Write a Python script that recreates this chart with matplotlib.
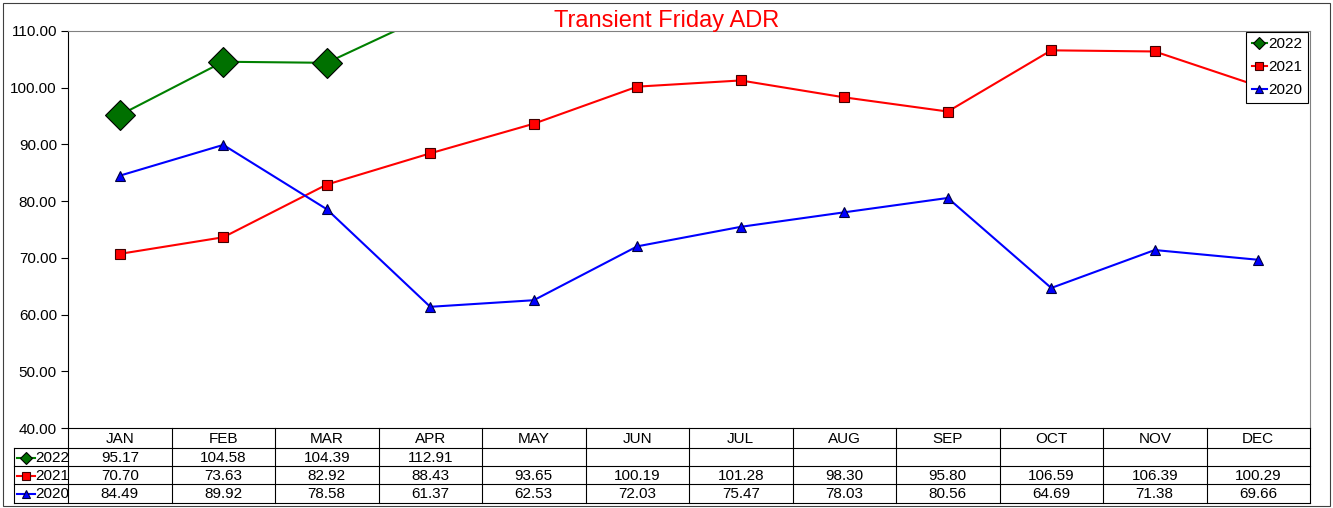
import numpy as np
import matplotlib.pyplot as plt
from matplotlib.lines import Line2D

plt.rcParams['font.family'] = ['Liberation Sans', 'DejaVu Sans']

months = ["JAN", "FEB", "MAR", "APR", "MAY", "JUN",
          "JUL", "AUG", "SEP", "OCT", "NOV", "DEC"]
adr_2022 = [95.17, 104.58, 104.39, 112.91]
adr_2021 = [70.70, 73.63, 82.92, 88.43, 93.65, 100.19,
            101.28, 98.30, 95.80, 106.59, 106.39, 100.29]
adr_2020 = [84.49, 89.92, 78.58, 61.37, 62.53, 72.03,
            75.47, 78.03, 80.56, 64.69, 71.38, 69.66]
years = ["2022", "2021", "2020"]

W, H = 1333, 508
fs = 11
fig = plt.figure(figsize=(W / 100, H / 100), dpi=100)

# outer chart border
fig.add_artist(plt.Rectangle((3 / W, 2 / H), 1 - 6 / W, 1 - 5 / H, transform=fig.transFigure,
                             fill=False, ec='#404040', lw=0.8))

x0, x1 = 68, 1310
y_top, y_bot = 31, 428
ax = fig.add_axes([x0 / W, 1 - y_bot / H, (x1 - x0) / W, (y_bot - y_top) / H])

styles = [
    dict(color='green', marker='D', ms=15, mfc='#007000', mec='black', mew=0.8),
    dict(color='red', marker='s', ms=7, mfc='red', mec='#400000', mew=0.8),
    dict(color='blue', marker='^', ms=7, mfc='blue', mec='#000040', mew=0.8),
]
series = [adr_2022, adr_2021, adr_2020]
idx = np.arange(len(months))
for name, vals, st in zip(years, series, styles):
    ax.plot(idx[:len(vals)], vals, lw=1.5, label=name, **st)

ax.set_xlim(-0.5, 11.5)
ax.set_ylim(40, 110)
ax.set_yticks(np.arange(40, 111, 10))
ax.set_yticklabels([f"{v:.2f}" for v in np.arange(40, 111, 10)], fontsize=fs)
ax.set_xticks([])
ax.tick_params(axis='y', direction='out', length=5, width=0.8, pad=3)
for s in ['top', 'right']:
    ax.spines[s].set_color('#808080')
for s in ['left', 'bottom']:
    ax.spines[s].set_color('black')
fig.text(0.5, 1 - 27 / H, "Transient Friday ADR", color='red', fontsize=17,
         ha='center', va='baseline')

leg_handles = [Line2D([], [], color=st['color'], marker=st['marker'], ms=6,
                      mfc=st['mfc'], mec=st['mec'], mew=0.8, lw=1.5) for st in styles]
leg = ax.legend(leg_handles, years, loc='upper right', bbox_to_anchor=(0.999, 1.0),
                fontsize=fs, frameon=True, fancybox=False, framealpha=1,
                handlelength=1.0, handletextpad=0.1, borderpad=0.35,
                labelspacing=0.6, borderaxespad=0.05)
leg.get_frame().set_edgecolor('black')
leg.get_frame().set_linewidth(0.8)

# data table below the plot area
tx0 = 14
tax = fig.add_axes([0, 0, 1, 1], facecolor='none')
tax.set_xlim(0, W)
tax.set_ylim(H, 0)
tax.axis('off')
col_w = (x1 - x0) / len(months)
rows_y = [428, 448, 466, 484, 503]
lc = 'black'
for i in range(len(months) + 1):
    xx = x0 + i * col_w
    tax.plot([xx, xx], [rows_y[0], rows_y[-1]], color=lc, lw=0.8)
tax.plot([tx0, tx0], [rows_y[1], rows_y[-1]], color=lc, lw=0.8)
for yy in rows_y[1:]:
    tax.plot([tx0, x1], [yy, yy], color=lc, lw=0.8)

for i, m in enumerate(months):
    tax.text(x0 + (i + 0.5) * col_w, (rows_y[0] + rows_y[1]) / 2 + 1, m,
             ha='center', va='center', fontsize=fs)
for r, (name, vals, st) in enumerate(zip(years, series, styles)):
    yc = (rows_y[r + 1] + rows_y[r + 2]) / 2 + 0.5
    tax.plot([17, 35], [yc, yc], color=st['color'], lw=1.5)
    tax.plot([26], [yc], marker=st['marker'], ms=6,
             mfc=st['mfc'], mec=st['mec'], mew=0.8, color=st['color'])
    tax.text(35, yc, name, ha='left', va='center', fontsize=fs)
    for i, v in enumerate(vals):
        tax.text(x0 + (i + 0.5) * col_w, yc, f"{v:.2f}",
                 ha='center', va='center', fontsize=fs)

fig.savefig("out.png", dpi=100)
